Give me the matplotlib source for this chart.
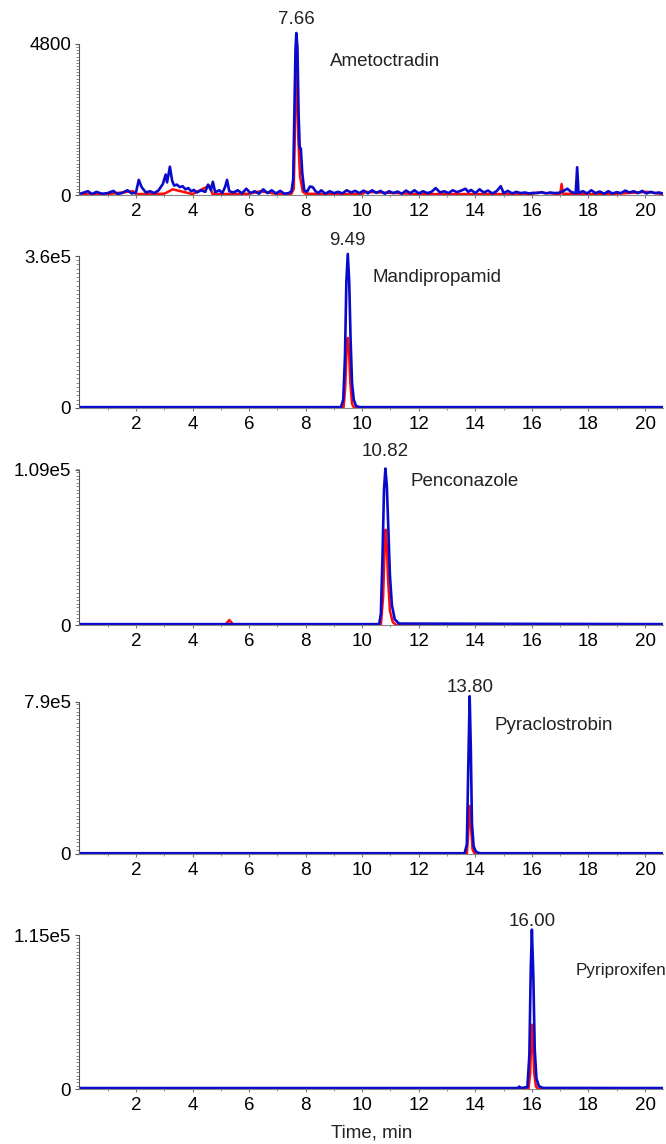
import numpy as np
import matplotlib
matplotlib.use("Agg")
import matplotlib.pyplot as plt
from matplotlib.ticker import FixedLocator

plt.rcParams['font.family'] = ['Liberation Sans', 'DejaVu Sans']

# ---------------- data ----------------
compounds = ["Ametoctradin", "Mandipropamid", "Penconazole", "Pyraclostrobin", "Pyriproxifen"]
rt_labels = ["7.66", "9.49", "10.82", "13.80", "16.00"]
rt_values = [7.66, 9.49, 10.82, 13.80, 16.00]
ymax_values = [4800, 3.6e5, 1.09e5, 7.9e5, 1.15e5]
ymax_labels = ["4800", "3.6e5", "1.09e5", "7.9e5", "1.15e5"]
xticks = [2, 4, 6, 8, 10, 12, 14, 16, 18, 20]

# Panel 1 (Ametoctradin) - noisy trace
p1_blue_t = [0.0, 0.1, 0.3, 0.45, 0.6, 0.8, 1.0, 1.2, 1.35, 1.5, 1.7, 1.85, 2.0, 2.1, 2.2, 2.35, 2.5,
             2.65, 2.8, 2.95, 3.05, 3.1, 3.2, 3.28, 3.35, 3.45, 3.55, 3.65, 3.75, 3.85, 3.95, 4.05,
             4.15, 4.3, 4.45, 4.55, 4.65, 4.72, 4.8, 4.95, 5.05, 5.15, 5.22, 5.3, 5.45, 5.6, 5.75,
             5.9, 6.05, 6.2, 6.35, 6.5, 6.65, 6.8, 6.95, 7.1, 7.25, 7.4, 7.5, 7.56, 7.6, 7.64, 7.67,
             7.71, 7.75, 7.79, 7.83, 7.88, 7.95, 8.05, 8.15, 8.25, 8.35, 8.45, 8.55, 8.7, 8.85, 9.0,
             9.15, 9.3, 9.45, 9.6, 9.75, 9.9, 10.05, 10.2, 10.35, 10.5, 10.65, 10.8, 10.95, 11.1,
             11.25, 11.4, 11.55, 11.7, 11.85, 12.0, 12.15, 12.3, 12.45, 12.6, 12.75, 12.9, 13.05,
             13.2, 13.35, 13.5, 13.65, 13.75, 13.85, 14.0, 14.15, 14.3, 14.45, 14.6, 14.75, 14.9,
             15.0, 15.15, 15.3, 15.45, 15.6, 15.75, 15.9, 16.05, 16.2, 16.35, 16.5, 16.65, 16.8,
             16.95, 17.1, 17.25, 17.4, 17.55, 17.6, 17.65, 17.8, 17.95, 18.1, 18.25, 18.4, 18.55,
             18.7, 18.85, 19.0, 19.15, 19.3, 19.45, 19.6, 19.75, 19.9, 20.05, 20.2, 20.35, 20.5, 20.65]
p1_blue_y = [40, 60, 120, 30, 100, 40, 60, 130, 30, 60, 150, 50, 80, 480, 250, 80, 120,
             60, 150, 350, 650, 400, 900, 450, 300, 330, 250, 280, 180, 220, 120, 160,
             80, 150, 100, 330, 150, 420, 90, 150, 60, 250, 480, 120, 80, 150, 50,
             200, 60, 120, 40, 180, 60, 150, 50, 130, 40, 60, 120, 500, 2500, 4600, 5150,
             4700, 2600, 1500, 1480, 700, 150, 100, 270, 250, 120, 60, 150, 40, 120, 60,
             100, 50, 150, 80, 130, 60, 140, 50, 150, 70, 130, 40, 120, 60,
             110, 40, 140, 60, 150, 50, 120, 60, 100, 220, 80, 120, 60,
             150, 90, 140, 200, 100, 160, 60, 180, 80, 140, 50, 120, 280,
             60, 130, 50, 100, 60, 80, 50, 70, 60, 90, 50, 80, 60,
             70, 120, 200, 90, 60, 880, 60, 120, 50, 150, 60, 110, 40,
             120, 50, 90, 60, 140, 80, 120, 60, 130, 50, 100, 60, 80, 40]
p1_red_t = [0.0, 1.0, 1.9, 2.0, 3.0, 3.3, 4.0, 4.6, 4.7, 5.0, 6.0, 6.4, 7.0, 7.5, 7.58, 7.62, 7.66,
            7.70, 7.74, 7.80, 7.9, 8.0, 9.0, 10.0, 10.1, 12.0, 14.0, 16.0, 16.2, 17.0, 17.05,
            17.1, 18.0, 19.0, 20.1, 20.65]
p1_red_y = [20, 30, 120, 30, 40, 180, 30, 300, 40, 30, 40, 120, 30, 40, 200, 2000, 4100,
            3600, 1800, 600, 100, 40, 30, 30, 100, 30, 30, 30, 80, 30, 350,
            40, 30, 40, 100, 20]

# Panel 2 (Mandipropamid)
p2_blue_t = [0.0, 9.25, 9.33, 9.39, 9.44, 9.49, 9.54, 9.59, 9.64, 9.70, 9.78, 9.9, 20.65]
p2_blue_y = [2e3, 2e3, 2e4, 1.2e5, 3.0e5, 3.65e5, 3.0e5, 1.6e5, 6e4, 2e4, 5e3, 2e3, 2e3]
p2_red_t = [0.0, 9.34, 9.40, 9.45, 9.49, 9.53, 9.58, 9.64, 9.72, 20.65]
p2_red_y = [0, 0, 5e4, 1.4e5, 1.66e5, 1.4e5, 6e4, 1e4, 0, 0]

# Panel 3 (Penconazole)
p3_blue_t = [0.0, 10.6, 10.66, 10.72, 10.77, 10.82, 10.87, 10.92, 10.98, 11.05, 11.15, 11.3, 20.65]
p3_blue_y = [600, 600, 8e3, 5e4, 9.5e4, 1.1e5, 9.8e4, 7e4, 3.5e4, 1.4e4, 4e3, 1e3, 600]
p3_red_t = [0.0, 5.15, 5.3, 5.45, 10.66, 10.74, 10.8, 10.83, 10.87, 10.92, 10.98, 11.08, 11.2, 20.65]
p3_red_y = [0, 0, 3.5e3, 0, 0, 2e4, 6e4, 6.7e4, 5.5e4, 3e4, 1e4, 2e3, 0, 0]

# Panel 4 (Pyraclostrobin)
p4_blue_t = [0.0, 13.62, 13.7, 13.75, 13.8, 13.84, 13.88, 13.94, 14.02, 14.15, 20.65]
p4_blue_y = [4e3, 4e3, 5e4, 4.5e5, 8.2e5, 5.5e5, 1.6e5, 4e4, 1.2e4, 4e3, 4e3]
p4_red_t = [0.0, 13.7, 13.75, 13.8, 13.84, 13.9, 13.98, 20.65]
p4_red_y = [0, 0, 1.1e5, 2.5e5, 1.6e5, 2.5e4, 0, 0]

# Panel 5 (Pyriproxifen)
p5_blue_t = [0.0, 15.5, 15.55, 15.62, 15.84, 15.91, 15.96, 16.0, 16.05, 16.1, 16.16, 16.25, 16.4, 20.65]
p5_blue_y = [700, 700, 1.8e3, 700, 1.5e3, 2.5e4, 9e4, 1.19e5, 8.5e4, 3e4, 8e3, 2e3, 800, 700]
p5_red_t = [0.0, 15.88, 15.94, 15.98, 16.0, 16.03, 16.08, 16.14, 16.22, 20.65]
p5_red_y = [0, 0, 1.2e4, 4e4, 4.8e4, 3.8e4, 1.2e4, 2e3, 0, 0]

blue_t = [p1_blue_t, p2_blue_t, p3_blue_t, p4_blue_t, p5_blue_t]
blue_y = [p1_blue_y, p2_blue_y, p3_blue_y, p4_blue_y, p5_blue_y]
red_t = [p1_red_t, p2_red_t, p3_red_t, p4_red_t, p5_red_t]
red_y = [p1_red_y, p2_red_y, p3_red_y, p4_red_y, p5_red_y]

# ---------------- layout ----------------
W, H = 666, 1144
fig = plt.figure(figsize=(W / 100, H / 100), dpi=100)

ax_left_px = 79.4
ax_width_px = 584.0
baselines_px = [195, 408, 625, 854, 1089]
label_px = [44, 256, 470, 702, 935]
minor_steps = [100, 1e4, 2500, 2e4, 2500]
name_x = [8.86, 10.38, 11.69, 14.69, 17.53]
name_fs = [13.5, 13.5, 13.5, 13.5, 12.3]
name_y_px = [62, 277, 482, 726, 970]
rt_y_px = [19, 240, 452, 688, 922]
XMAX = 20.65
FS = 13.5

BLUE = '#0A0ACD'
RED = '#FF0A0A'

for i in range(5):
    B = baselines_px[i]
    L = label_px[i]
    T = L - 30
    ax = fig.add_axes([ax_left_px / W, 1 - B / H, ax_width_px / W, (B - T) / H])
    ytop = ymax_values[i] * (B - T) / (B - L)
    ax.plot(red_t[i], red_y[i], color=RED, lw=1.8, solid_joinstyle='round')
    ax.plot(blue_t[i], blue_y[i], color=BLUE, lw=1.9, solid_joinstyle='round')
    ax.set_xlim(0, XMAX)
    ax.set_ylim(0, ytop)
    for s in ['top', 'right']:
        ax.spines[s].set_visible(False)
    ax.spines['left'].set_bounds(0, ymax_values[i])
    ax.spines['left'].set_color('#555555')
    ax.spines['bottom'].set_color('#888888')
    ax.spines['left'].set_linewidth(0.8)
    ax.spines['bottom'].set_linewidth(0.8)
    ax.set_yticks([0, ymax_values[i]])
    ax.set_yticklabels(["0", ymax_labels[i]])
    ax.yaxis.set_minor_locator(FixedLocator(np.arange(0, ymax_values[i] + minor_steps[i] / 2, minor_steps[i])))
    ax.set_xticks(xticks)
    ax.set_xticklabels([str(v) for v in xticks])
    ax.xaxis.set_minor_locator(FixedLocator(np.arange(1, 21, 2)))
    ax.tick_params(axis='y', which='major', length=3, width=0.8, color='#555555', labelsize=FS, pad=3)
    ax.tick_params(axis='y', which='minor', length=2, width=0.6, color='#777777')
    ax.tick_params(axis='x', which='major', length=2.5, width=0.8, color='#777777', labelsize=FS, pad=3)
    ax.tick_params(axis='x', which='minor', length=1.5, width=0.6, color='#777777')
    ax.patch.set_alpha(0)
    # compound name
    ny = (B - name_y_px[i]) / (B - T)
    ax.text(name_x[i], ny, compounds[i], transform=ax.get_xaxis_transform(),
            ha='left', va='center', fontsize=name_fs[i], color='#222222', clip_on=False)
    ry = (B - rt_y_px[i]) / (B - T)
    ax.text(rt_values[i], ry, rt_labels[i], transform=ax.get_xaxis_transform(),
            ha='center', va='center', fontsize=FS, color='#222222', clip_on=False)
    if i == 4:
        ax.set_xlabel("Time, min", fontsize=FS, labelpad=8, color='#222222')

fig.savefig("out.png", dpi=100)
